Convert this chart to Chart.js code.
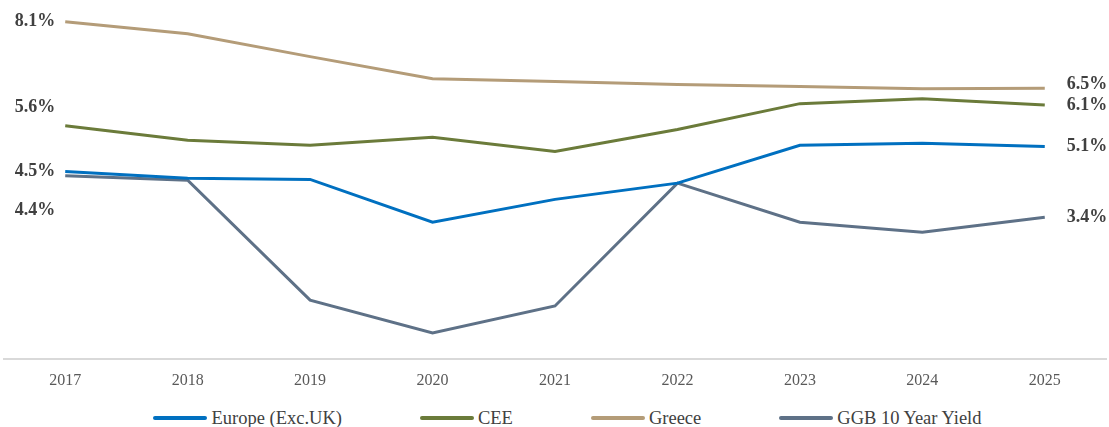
<!DOCTYPE html>
<html>
<head>
<meta charset="utf-8">
<script src="https://cdn.jsdelivr.net/npm/chart.js@4"></script>
<style>
  html, body { margin: 0; padding: 0; background: #fff; }
  #wrap { width: 1109px; height: 427px; position: relative; overflow: hidden; }
  #box { width: 1109px; height: 403px; position: relative; }
  #legend {
    position: absolute; left: 0; top: 405px; width: 1109px; height: 26px;
    display: flex; justify-content: center; align-items: center;
    padding-left: 26px; box-sizing: border-box;
    font-family: "Liberation Serif", "Times New Roman", serif; font-size: 18.5px; color: #404040;
  }
  .item { display: flex; align-items: center; margin: 0 39px; white-space: nowrap; }
  .mark { width: 54px; height: 4px; border-radius: 2px; margin-right: 4px; }
</style>
</head>
<body>
<div id="wrap">
  <div id="box"><canvas id="chart"></canvas></div>
  <div id="legend"></div>
</div>
<script>
// 年份与各序列数值（%）
const years = ['2017', '2018', '2019', '2020', '2021', '2022', '2023', '2024', '2025'];
const europe = [4.5, 4.34, 4.31, 3.28, 3.83, 4.22, 5.13, 5.18, 5.1];
const cee = [5.6, 5.25, 5.13, 5.32, 4.98, 5.51, 6.13, 6.25, 6.1];
const greece = [8.1, 7.81, 7.26, 6.73, 6.66, 6.59, 6.54, 6.49, 6.5];
const ggb = [4.4, 4.29, 1.41, 0.62, 1.27, 4.22, 3.28, 3.04, 3.4];

const seriesNames = ['Europe (Exc.UK)', 'CEE', 'Greece', 'GGB 10 Year Yield'];
const seriesColors = ['#0070C0', '#6B7B3A', '#B49C78', '#5E7187'];

// 首尾数值标签的上下偏移，避免重叠
const startShift = [0, -18, 0, 35];
const endShift = [0, 0, -4, 0];

const serif = '"Liberation Serif", "Times New Roman", serif';

const endLabels = {
  id: 'endLabels',
  afterDatasetsDraw(chart) {
    const ctx = chart.ctx;
    ctx.save();
    ctx.font = 'bold 18px ' + serif;
    ctx.fillStyle = '#404040';
    ctx.textBaseline = 'middle';
    chart.data.datasets.forEach((ds, i) => {
      const pts = chart.getDatasetMeta(i).data;
      const first = pts[0];
      const last = pts[pts.length - 1];
      ctx.textAlign = 'right';
      ctx.fillText(ds.data[0].toFixed(1) + '%', first.x - 10, first.y + startShift[i]);
      ctx.textAlign = 'left';
      ctx.fillText(ds.data[ds.data.length - 1].toFixed(1) + '%', last.x + 22, last.y + endShift[i]);
    });
    ctx.restore();
  }
};

const datasets = [europe, cee, greece, ggb].map((values, i) => ({
  label: seriesNames[i],
  data: values,
  borderColor: seriesColors[i],
  backgroundColor: seriesColors[i],
  borderWidth: 3,
  pointRadius: 0,
  tension: 0,
  fill: false,
}));

const chart = new Chart(document.getElementById('chart'), {
  type: 'line',
  data: { labels: years, datasets: datasets },
  options: {
    responsive: true,
    maintainAspectRatio: false,
    animation: false,
    layout: { padding: { left: 4, right: 3, top: 5, bottom: 1 } },
    plugins: {
      legend: { display: false },
      tooltip: { enabled: false },
    },
    scales: {
      x: {
        offset: true,
        grid: { display: false, drawTicks: false },
        border: { display: true, color: '#d9d9d9', width: 2 },
        ticks: { color: '#595959', padding: 12, font: { family: serif, size: 16 } },
      },
      y: {
        display: false,
        min: 0,
        max: 8.5,
      },
    },
  },
  plugins: [endLabels],
});

// 图例
const legend = document.getElementById('legend');
chart.data.datasets.forEach((ds) => {
  const item = document.createElement('div');
  item.className = 'item';
  const mark = document.createElement('span');
  mark.className = 'mark';
  mark.style.background = ds.borderColor;
  item.appendChild(mark);
  item.appendChild(document.createTextNode(ds.label));
  legend.appendChild(item);
});
</script>
</body>
</html>
